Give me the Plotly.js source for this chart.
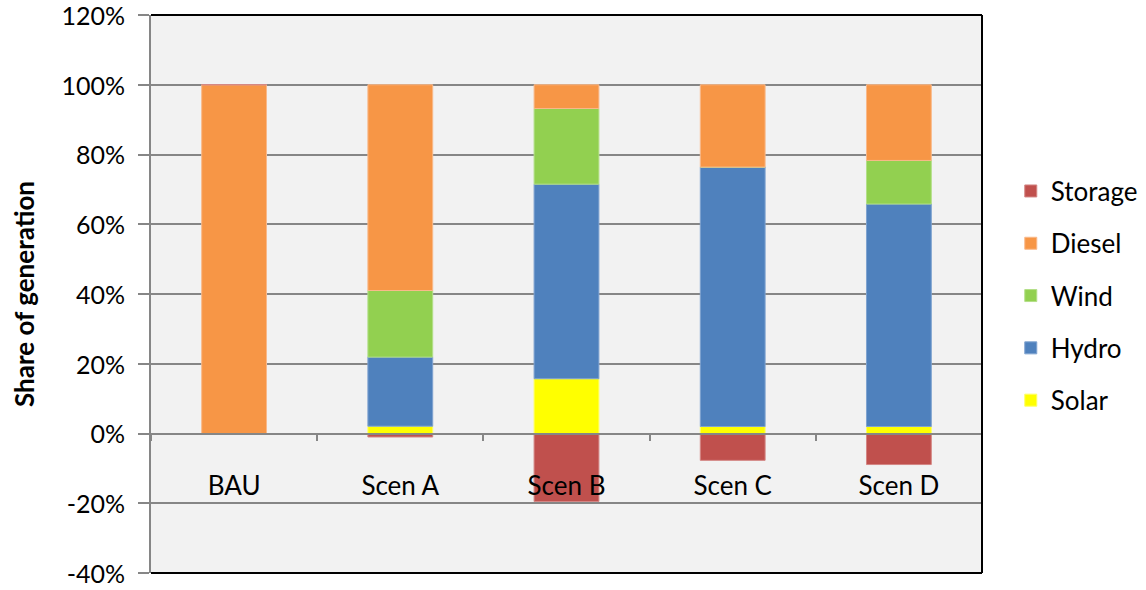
<!DOCTYPE html>
<html>
<head>
<meta charset="utf-8">
<script src="https://cdn.plot.ly/plotly-3.0.1.min.js"></script>
<style>html,body{margin:0;padding:0;background:#fff;}#chart{width:1146px;height:590px;}</style>
</head>
<body>
<div id="chart"></div>
<script>
const categories = ["BAU", "Scen A", "Scen B", "Scen C", "Scen D"];
const solar   = [0, 2.1, 15.7, 2.0, 2.0];
const hydro   = [0, 19.8, 55.8, 74.4, 63.8];
const wind    = [0, 19.1, 21.7, 0, 12.5];
const diesel  = [100, 59.0, 6.8, 23.6, 21.7];
const storage = [0, -1.0, -19.5, -7.7, -8.9];
const yTickVals = [-40, -20, 0, 20, 40, 60, 80, 100, 120];
const yTickText = ["-40%", "-20%", "0%", "20%", "40%", "60%", "80%", "100%", "120%"];

const FONT = "Lato, 'Open Sans', sans-serif";
function mk(name, y, color, edge, rank) {
  return {type: "bar", name: name, x: categories, y: y, legendgroup: name, legendrank: rank,
    marker: {color: color, line: {color: edge, width: 1}}, hoverinfo: "x+y+name"};
}
const data = [
  mk("Solar", solar, "#FFFF00", "#FFFF66", 5),
  mk("Hydro", hydro, "#4F81BD", "#7FA3D0", 4),
  mk("Wind", wind, "#92D050", "#B3DF88", 3),
  mk("Diesel", diesel, "#F79646", "#F9B98A", 2),
  mk("Storage", storage, "#C0504D", "#D48684", 1)
];
const gridC = "#868686";
const layout = {
  width: 1146, height: 590,
  margin: {l: 151, r: 164, t: 15, b: 17, autoexpand: false},
  paper_bgcolor: "#ffffff", plot_bgcolor: "#f2f2f2",
  barmode: "relative", bargap: 0.61,
  font: {family: FONT, size: 26, color: "#000"},
  showlegend: true,
  legend: {xref: "container", yref: "container", x: 0.882, y: 0.716, xanchor: "left", yanchor: "top",
    traceorder: "grouped", font: {family: FONT, size: 26, color: "#000"}, tracegroupgap: 15.5,
    bgcolor: "rgba(0,0,0,0)"},
  xaxis: {type: "category", anchor: "free", position: 0.25, showline: true, linecolor: gridC, linewidth: 2,
    ticks: "outside", tickson: "boundaries", ticklen: 6, tickcolor: gridC, tickwidth: 2,
    showgrid: false, ticklabelstandoff: 29, automargin: false, tickfont: {family: FONT, size: 26, color: "#000"}},
  yaxis: {range: [-40, 120], tickvals: yTickVals, ticktext: yTickText,
    showgrid: true, gridcolor: gridC, gridwidth: 2, zeroline: false, automargin: false,
    showline: true, linecolor: gridC, linewidth: 2, ticks: "outside", ticklen: 11,
    ticklabeloverflow: "allow", ticklabelshift: 1,
    tickcolor: gridC, tickwidth: 2, ticklabelstandoff: 8, tickfont: {family: FONT, size: 25, color: "#000"},
    title: {text: "<b>Share of generation</b>", font: {family: FONT, size: 26, color: "#000"}, standoff: 19}},
  shapes: [
    {type: "line", xref: "paper", yref: "paper", x0: 0, x1: 1, y0: 1, y1: 1, line: {color: "#000", width: 2}},
    {type: "line", xref: "paper", yref: "paper", x0: 1, x1: 1, y0: 0, y1: 1, line: {color: "#000", width: 2}},
    {type: "line", xref: "paper", yref: "paper", x0: 0, x1: 1, y0: 0, y1: 0, line: {color: "#000", width: 2}}
  ]
};
Plotly.newPlot("chart", data, layout, {displayModeBar: false, staticPlot: true});
</script>
</body>
</html>
